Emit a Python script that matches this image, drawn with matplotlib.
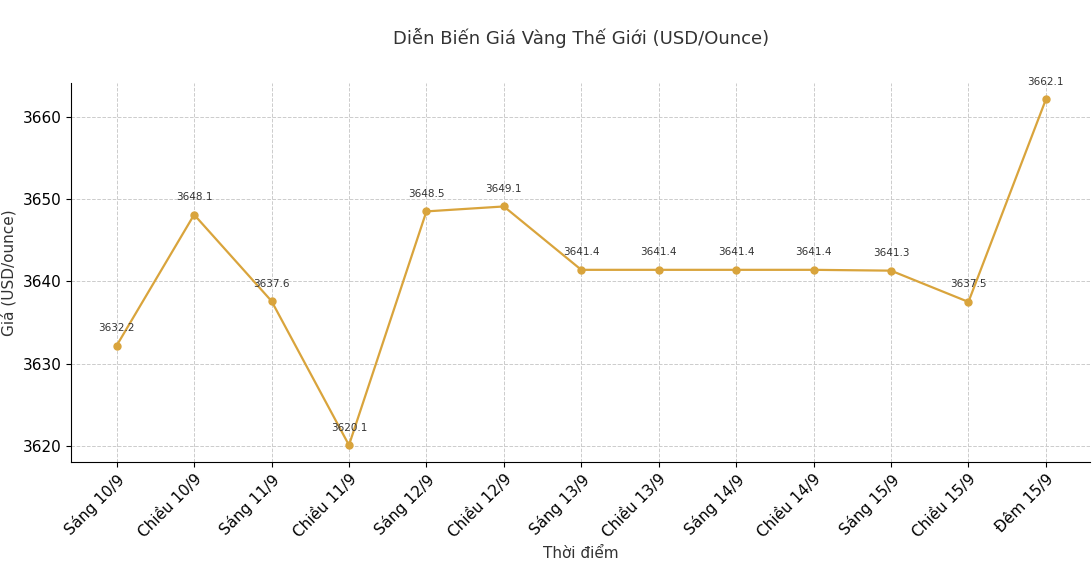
import matplotlib
matplotlib.use("Agg")
import matplotlib.pyplot as plt

labels = ["Sáng 10/9","Chiều 10/9","Sáng 11/9","Chiều 11/9","Sáng 12/9","Chiều 12/9",
          "Sáng 13/9","Chiều 13/9","Sáng 14/9","Chiều 14/9","Sáng 15/9","Chiều 15/9","Đêm 15/9"]
prices = [3632.2,3648.1,3637.6,3620.1,3648.5,3649.1,3641.4,3641.4,3641.4,3641.4,3641.3,3637.5,3662.1]

fig = plt.figure(figsize=(10.92,5.86), dpi=100)
ax = fig.add_axes([71/1092, 1-462/586, (1090-71)/1092, (462-83)/586])
x = list(range(len(labels)))
ax.plot(x, prices, color="#D9A43C", marker="o", markersize=5, linewidth=1.6)
for xi, p in zip(x, prices):
    ax.annotate(f"{p}", (xi, p), xytext=(0, 9), textcoords="offset points",
                ha="center", va="bottom", fontsize=7.5, color="#333333")
ax.set_xlim(-0.59, 12.57)
ax.set_ylim(3618.05, 3664.1)
ax.set_yticks([3620,3630,3640,3650,3660])
ax.set_xticks(x)
ax.set_xticklabels(labels, rotation=45, ha="right", rotation_mode="anchor", fontsize=11)
ax.tick_params(axis="y", labelsize=11)
ax.grid(True, linestyle="--", color="#cccccc", linewidth=0.7)
for s in ["top","right"]:
    ax.spines[s].set_visible(False)
ax.set_xlabel("Thời điểm", fontsize=11, color="#333333")
ax.set_ylabel("Giá (USD/ounce)", fontsize=11, color="#333333")
fig.text(0.532, 1-38/586, "Diễn Biến Giá Vàng Thế Giới (USD/Ounce)", ha="center", va="center",
         fontsize=13, color="#333333")
fig.savefig("out.png", dpi=100)
